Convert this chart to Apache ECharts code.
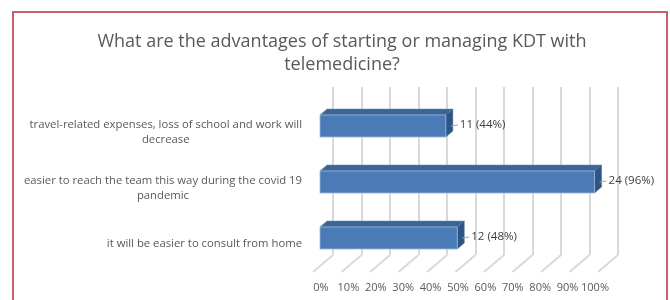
<!DOCTYPE html>
<html><head><meta charset="utf-8">
<script src="https://cdn.jsdelivr.net/npm/echarts@6/dist/echarts.min.js"></script>
<style>html,body{margin:0;padding:0;background:#fff}#c{width:670px;height:300px}</style>
</head><body><div id="c"></div>
<script>
const titleText = 'What are the advantages of starting or managing KDT with\ntelemedicine?';
const categories = [
  'travel-related expenses, loss of school and work will\ndecrease',
  'easier to reach the team this way during the covid 19\npandemic',
  'it will be easier to consult from home'
];
const counts = [11, 24, 12];
const percents = [44, 96, 48];
const tickValues = [0, 10, 20, 30, 40, 50, 60, 70, 80, 90, 100];

const FONT = 'Open Sans';
const DX = 7, DY = -6, BAR_H = 22;

const chart = echarts.init(document.getElementById('c'), null, {renderer: 'canvas'});
chart.setOption({
  animation: false,
  backgroundColor: '#fff',
  title: {
    text: titleText, left: 337, top: 25, textAlign: 'center',
    textStyle: {fontFamily: FONT, fontSize: 18, fontWeight: 'normal', color: '#595959', lineHeight: 23}
  },
  graphic: [{
    type: 'rect', shape: {x: 13, y: 12, width: 654, height: 300},
    style: {fill: 'none', stroke: '#c5616a', lineWidth: 2}, silent: true, z: 100
  }],
  grid: [
    {left: 333, right: 52, top: 87, bottom: 45},
    {left: 320, right: 64, top: 98, bottom: 34},
    {left: 321, right: 75, top: 104, bottom: 28}
  ],
  xAxis: [
    {gridIndex: 0, type: 'value', min: 0, max: 100, interval: 10,
     axisLine: {show: false}, axisTick: {show: false}, axisLabel: {show: false},
     splitLine: {show: true, lineStyle: {color: '#d9d9d9', width: 2}}},
    {gridIndex: 1, type: 'value', min: 0, max: 100, interval: 10, show: false},
    {gridIndex: 2, type: 'value', min: 0, max: 100, interval: 10,
     axisLine: {show: false}, axisTick: {show: false}, splitLine: {show: false},
     axisLabel: {show: true, margin: 10, fontFamily: FONT, fontSize: 11, color: '#595959',
       formatter: v => v + '%'}}
  ],
  yAxis: [
    {gridIndex: 0, type: 'value', min: 0, max: 1, show: false},
    {gridIndex: 1, type: 'category', data: categories, inverse: true, show: false},
    {gridIndex: 2, type: 'category', data: categories, inverse: true,
     axisLine: {show: false}, axisTick: {show: false}, splitLine: {show: false},
     axisLabel: {show: true, margin: 19, align: 'right', fontFamily: FONT, fontSize: 11.3, color: '#595959',
       formatter: v => v.split('\n').map(s => '{c|' + s + '}').join('\n'),
       rich: {c: {align: 'center', fontFamily: FONT, fontSize: 11.3, color: '#595959', lineHeight: 15}}}}
  ],
  series: [
    {
      type: 'custom', xAxisIndex: 0, yAxisIndex: 0, silent: true,
      data: tickValues.map(t => [t]),
      renderItem: function (params, api) {
        const p = api.coord([api.value(0), 0]);
        return {type: 'line', shape: {x1: p[0], y1: p[1], x2: p[0] - 20, y2: p[1] + 17},
          style: {stroke: '#d9d9d9', lineWidth: 2}};
      }
    },
    {
      type: 'custom', xAxisIndex: 1, yAxisIndex: 1, silent: true,
      data: percents.map((v, i) => [v, i, counts[i]]),
      renderItem: function (params, api) {
        const v = api.value(0), c = api.value(1), n = api.value(2);
        const p0 = api.coord([0, c]);
        const p1 = api.coord([v, c]);
        const x0 = p0[0], x1 = p1[0], y0 = p0[1] - BAR_H / 2, y1 = y0 + BAR_H;
        return {type: 'group', children: [
          {type: 'polygon', shape: {points: [[x0, y0], [x1, y0], [x1 + DX, y0 + DY], [x0 + DX, y0 + DY]]},
           style: {fill: '#3d6496', stroke: '#5f86b8', lineWidth: 0.5}},
          {type: 'polygon', shape: {points: [[x1, y0], [x1 + DX, y0 + DY], [x1 + DX, y1 + DY], [x1, y1]]},
           style: {fill: '#2e5483', stroke: '#4a6f9e', lineWidth: 0.5}},
          {type: 'rect', shape: {x: x0, y: y0, width: x1 - x0, height: BAR_H},
           style: {fill: '#4a7bb7', stroke: '#9fb8d8', lineWidth: 0.8}},
          {type: 'line', shape: {x1: x1 + DX - 2, y1: p0[1], x2: x1 + DX + 5, y2: p0[1] - 1},
           style: {stroke: '#a6a6a6', lineWidth: 1}},
          {type: 'text', x: x1 + DX + 7, y: p0[1] - 1,
           style: {text: n + ' (' + v + '%)', fill: '#404040', font: '11.5px "' + FONT + '"',
             textAlign: 'left', textVerticalAlign: 'middle'}}
        ]};
      }
    }
  ]
});
</script></body></html>
